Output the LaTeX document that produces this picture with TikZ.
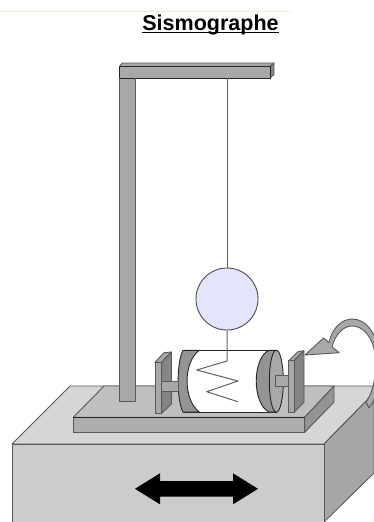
\documentclass[tikz,border=0pt]{standalone}
\usepackage{fontspec}
\setmainfont{Liberation Sans}
\tikzset{
  edge/.style={draw=black!65,line width=0.9pt,line join=round},
  dark/.style={edge,draw=black!85},
  wire/.style={draw=black!62,line width=1pt,line join=round},
}
\definecolor{boxfront}{gray}{0.80}
\definecolor{boxtop}{gray}{0.84}
\definecolor{boxside}{gray}{0.65}
\definecolor{platetop}{gray}{0.75}
\definecolor{platefront}{gray}{0.68}
\definecolor{metal}{gray}{0.66}
\definecolor{metaldark}{gray}{0.52}
\definecolor{band}{gray}{0.58}
\definecolor{ball}{RGB}{228,228,252}
\definecolor{paleline}{RGB}{235,238,215}
\begin{document}
\begin{tikzpicture}[x=1pt,y=-1pt]
\useasboundingbox (0,0) rectangle (374,522);
\draw[draw=paleline,line width=0.7pt] (0,11.5) -- (290,11.5);
\node[font=\bfseries\fontsize{21.5}{24}\selectfont,anchor=base,inner sep=0pt] (title) at (210.5,30) {Sismographe};
\draw[black,line width=1.5pt] ([yshift=-2.5pt]title.base west) -- ([yshift=-2.5pt]title.base east);
% base box
\path[edge,fill=boxtop] (12,444) -- (70,386) -- (374,386) -- (374,393) -- (324,444) -- cycle;
\path[edge,fill=boxside] (324,444) -- (374,393) -- (374,473) -- (324,522) -- cycle;
\path[edge,fill=boxfront] (12,522) -- (12,444) -- (324,444) -- (324,522);
% platform
\path[edge,fill=platetop] (73.3,417.3) -- (104,386) -- (334,386) -- (304.7,417.3) -- cycle;
\path[edge,fill=band] (304.7,417.3) -- (334,386) -- (334,402) -- (304.7,432.3) -- cycle;
\path[edge,fill=platefront] (73.3,417.3) rectangle (304.7,432.3);
\draw[dark] (73.3,417.3) -- (304.7,417.3);
% stand
\path[edge,fill=metal] (119.5,66.7) -- (122,63) -- (274,63) -- (270,66.7) -- cycle;
\path[edge,fill=metaldark] (270,66.7) -- (274,63) -- (274,74.5) -- (270,78) -- cycle;
\path[edge,fill=metal] (119.5,78) rectangle (135,401);
\path[dark,fill=metal] (119.5,66.7) rectangle (270,78);
\draw[edge] (119.5,78) -- (119.5,401) -- (135,401) -- (135,78);
% string, ball and spring
\coordinate (top) at (227,78);
\node[circle,draw=black!70,line width=0.9pt,fill=ball,minimum size=62pt,inner sep=0pt] (mass) at (227,299) {};
\draw[wire] (top) -- (mass.north);
% drum
\path[dark,fill=white] (183,350.3) -- (276,350.3) -- (276,412) -- (183,412) -- cycle;
\path[dark,fill=band] (199.3,350.3) -- (183,350.3) .. controls (176.5,362) and (176.5,400) .. (183,412) -- (199.3,412) .. controls (183,400) and (183,362) .. (199.3,350.3) -- cycle;
\path[dark,fill=band] (269,350.3) .. controls (252,358) and (252,404) .. (269,412) -- (276,412) -- (276,350.3) -- cycle;
\path[dark,fill=metal] (276.3,381.2) ellipse (7 and 31);
% spring
\coordinate (s1) at (227,361);
\draw[wire] (mass.south) -- (s1) -- (196.7,370) -- (238,381) -- (206.7,391.7) -- (238,401.7);
% left plate and axle
\path[edge,fill=metal] (155,362.3) -- (164,352.7) -- (171.3,352) -- (161.7,362.3) -- cycle;
\path[edge,fill=metaldark] (161.7,362.3) -- (171.3,352) -- (171.3,404) -- (161.7,413.3) -- cycle;
\path[edge,fill=metal] (155,362.3) rectangle (161.7,413.3);
\path[edge,fill=metal] (161.7,381) rectangle (178.3,391.7);
% right axle and plate
\path[edge,fill=metal] (275.3,375.7) rectangle (288.7,386);
\path[edge,fill=metal] (288.7,360.7) -- (298,351.7) -- (304,350.7) -- (294,360.7) -- cycle;
\path[edge,fill=metaldark] (294,360.7) -- (304,350.7) -- (304,402.3) -- (294,412.3) -- cycle;
\path[edge,fill=metal] (288.7,360.7) rectangle (294,412.3);
% curved arrow, running off the picture on the right
\begin{scope}
\clip (0,0) rectangle (374,522);
\path[edge,fill=metal] (305,355) -- (323.5,338) -- (329,342.5) .. controls (332,328) and (342,319) .. (352,319)
  .. controls (366,319) and (374,332) .. (379,347) .. controls (384,365) and (380,395) .. (369,408)
  -- (366,402) .. controls (374,392) and (379,365) .. (373,345) .. controls (369,334) and (362,326) .. (352,326)
  .. controls (343,326) and (335,335) .. (332,347) -- (339.3,352.7) -- cycle;
\end{scope}
% double arrow
\fill[black] (135,488.8) -- (160,473.3) -- (160,481) -- (233,481) -- (233,473.3) -- (258,488.8) -- (233,504.3) -- (233,496.5) -- (160,496.5) -- (160,504.3) -- cycle;
\end{tikzpicture}
\end{document}
